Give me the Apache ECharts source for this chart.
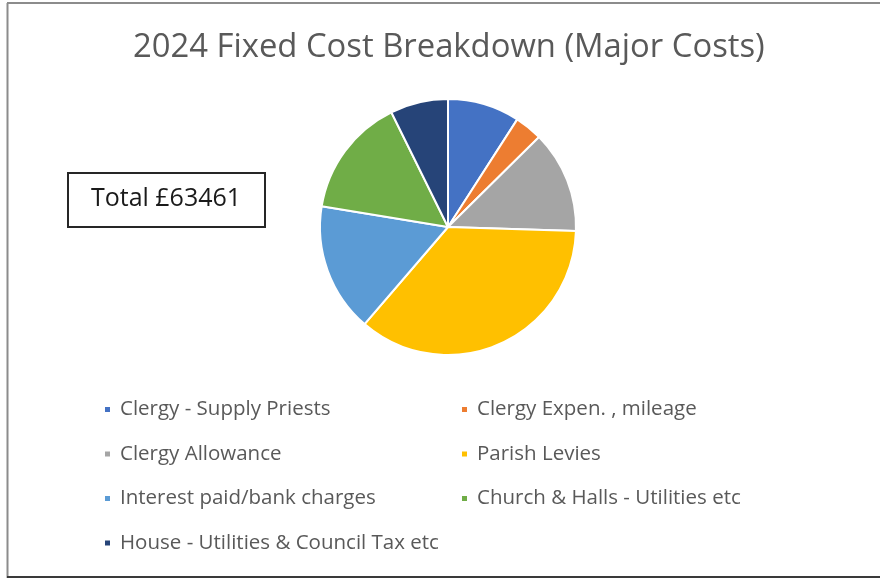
<!DOCTYPE html>
<html>
<head>
<meta charset="utf-8">
<script src="https://cdn.jsdelivr.net/npm/echarts@6/dist/echarts.min.js"></script>
<style>html,body{margin:0;padding:0;background:#fff;}#c{width:880px;height:579px;}</style>
</head>
<body>
<div id="c"></div>
<script>
const titleText = '2024 Fixed Cost Breakdown (Major Costs)';
const totalLabel = 'Total £63461';
const categories = [
  'Clergy - Supply Priests',
  'Clergy Expen. , mileage',
  'Clergy Allowance',
  'Parish Levies',
  'Interest paid/bank charges',
  'Church & Halls - Utilities etc',
  'House - Utilities & Council Tax etc'
];
const values = [5775, 2221, 8187, 22718, 10344, 9583, 4633];
const colors = ['#4472C4', '#ED7D31', '#A5A5A5', '#FFC000', '#5B9BD5', '#70AD47', '#264478'];

const FONT = 'Open Sans';
const chart = echarts.init(document.getElementById('c'));
const legendCommon = {
  orient: 'vertical',
  icon: 'rect',
  itemWidth: 7,
  itemHeight: 7,
  itemGap: 23.5,
  selectedMode: false,
  textStyle: { fontFamily: FONT, fontSize: 20.5, color: '#595959', padding: [0, 0, 0, 4], lineHeight: 19 }
};
chart.setOption({
  animation: false,
  color: colors,
  title: {
    text: titleText,
    left: 128,
    top: 26,
    textStyle: { fontFamily: FONT, fontSize: 32.8, fontWeight: 'normal', color: '#595959' }
  },
  legend: [
    Object.assign({}, legendCommon, { left: 98, top: 394, data: [categories[0], categories[2], categories[4], categories[6]] }),
    Object.assign({}, legendCommon, { left: 455, top: 394, data: [categories[1], categories[3], categories[5]] })
  ],
  graphic: [
    { type: 'line', shape: { x1: 7.5, y1: 3, x2: 7.5, y2: 578 }, style: { stroke: '#8c8c8c', lineWidth: 2 } },
    { type: 'line', shape: { x1: 7, y1: 3, x2: 880, y2: 3 }, style: { stroke: '#8c8c8c', lineWidth: 2 } },
    { type: 'line', shape: { x1: 7, y1: 577, x2: 880, y2: 577 }, style: { stroke: '#3a3a3a', lineWidth: 2 } },
    { type: 'rect', shape: { x: 68, y: 173, width: 197, height: 54 }, style: { fill: '#fff', stroke: '#262626', lineWidth: 2 } },
    { type: 'text', style: { text: totalLabel, x: 166, y: 199, align: 'center', verticalAlign: 'middle', fontFamily: FONT, fontSize: 25, fontWeight: 500, fill: '#1a1a1a' } }
  ],
  series: [{
    type: 'pie',
    center: [448, 227],
    radius: 128,
    startAngle: 90,
    clockwise: true,
    label: { show: false },
    labelLine: { show: false },
    itemStyle: { borderColor: '#fff', borderWidth: 2 },
    emphasis: { disabled: true },
    data: categories.map((n, i) => ({ name: n, value: values[i] }))
  }]
});
</script>
</body>
</html>
